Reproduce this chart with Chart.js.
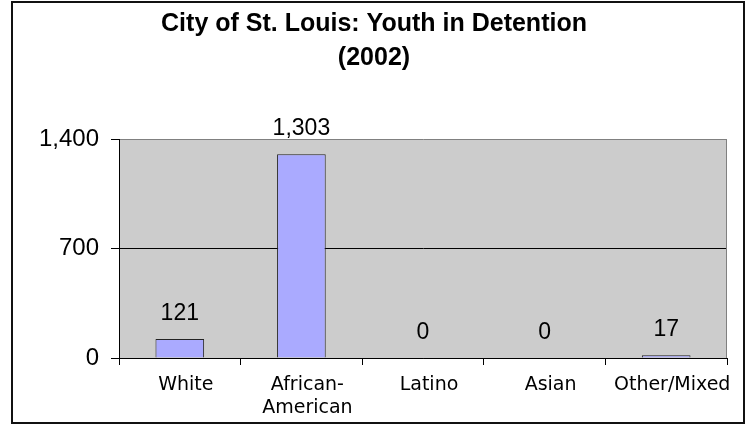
<!DOCTYPE html>
<html>
<head>
<meta charset="utf-8">
<script src="https://cdn.jsdelivr.net/npm/chart.js@4.4.1/dist/chart.umd.min.js"></script>
<style>
  html, body { margin: 0; padding: 0; background: #fff; }
  canvas { display: block; }
</style>
</head>
<body>
<canvas id="detention" width="752" height="425"></canvas>
<script>
const categories = ['White', ['African-', 'American'], 'Latino', 'Asian', 'Other/Mixed'];
const youthDetained = [121, 1303, 0, 0, 17];
const yTicks = [0, 700, 1400];

const fmt = v => v.toLocaleString('en-US');

// grey plot area, right edge line, outer frame and value labels
const decorations = {
  id: 'decorations',
  beforeDraw(chart) {
    const { ctx, chartArea: a } = chart;
    ctx.save();
    ctx.fillStyle = '#fff';
    ctx.fillRect(0, 0, chart.width, chart.height);
    ctx.fillStyle = '#cccccc';
    ctx.fillRect(a.left, a.top, a.right - a.left, a.bottom - a.top);
    ctx.restore();
  },
  afterDatasetsDraw(chart) {
    const { ctx, chartArea: a } = chart;
    ctx.save();
    ctx.strokeStyle = '#808080';
    ctx.lineWidth = 1;
    ctx.beginPath();
    ctx.moveTo(a.right - 0.5, a.top);
    ctx.lineTo(a.right - 0.5, a.bottom);
    ctx.stroke();

    ctx.fillStyle = '#000';
    ctx.font = '23px "Liberation Sans", Arial, sans-serif';
    ctx.textAlign = 'center';
    ctx.textBaseline = 'alphabetic';
    chart.getDatasetMeta(0).data.forEach((bar, i) => {
      ctx.fillText(fmt(youthDetained[i]), bar.x, bar.y - 19);
    });

    ctx.strokeStyle = '#111';
    ctx.lineWidth = 2;
    ctx.strokeRect(12, 2, 732, 421);
    ctx.restore();
  }
};

new Chart(document.getElementById('detention'), {
  type: 'bar',
  data: {
    labels: categories,
    datasets: [{
      data: youthDetained,
      backgroundColor: '#aaaaff',
      borderColor: '#222',
      borderWidth: 1,
      barPercentage: 0.4,
      categoryPercentage: 1
    }]
  },
  options: {
    responsive: false,
    animation: false,
    layout: { padding: { left: 21, right: 25, top: 0, bottom: 0 } },
    plugins: {
      legend: { display: false },
      tooltip: { enabled: false },
      title: {
        display: true,
        text: ['City of St. Louis: Youth in Detention', '(2002)'],
        color: '#000',
        font: { family: '"Liberation Sans", Arial, sans-serif', size: 25, weight: 'bold', lineHeight: 1.36 },
        padding: { top: 7, bottom: 64 }
      }
    },
    scales: {
      x: {
        grid: { offset: true, drawOnChartArea: false, tickLength: 7, color: '#000', tickColor: '#000' },
        border: { color: '#000', width: 1 },
        ticks: {
          color: '#000',
          padding: 9,
          labelOffset: 6,
          maxRotation: 0,
          autoSkip: false,
          font: { family: '"DejaVu Sans", Verdana, sans-serif', size: 19, lineHeight: 1.2 }
        },
        afterFit(scale) { scale.height = 67; }
      },
      y: {
        min: 0,
        max: 1400,
        afterBuildTicks(scale) { scale.ticks = yTicks.map(v => ({ value: v })); },
        grid: {
          tickLength: 8,
          color: ctx => (ctx.tick && ctx.tick.value === 1400 ? '#808080' : '#000'),
          tickColor: '#000'
        },
        border: { color: '#000', width: 1 },
        ticks: {
          color: '#000',
          padding: 12,
          font: { family: '"Liberation Sans", Arial, sans-serif', size: 24 },
          callback: v => fmt(v)
        },
        afterFit(scale) { scale.width = 98; }
      }
    }
  },
  plugins: [decorations]
});
</script>
</body>
</html>
